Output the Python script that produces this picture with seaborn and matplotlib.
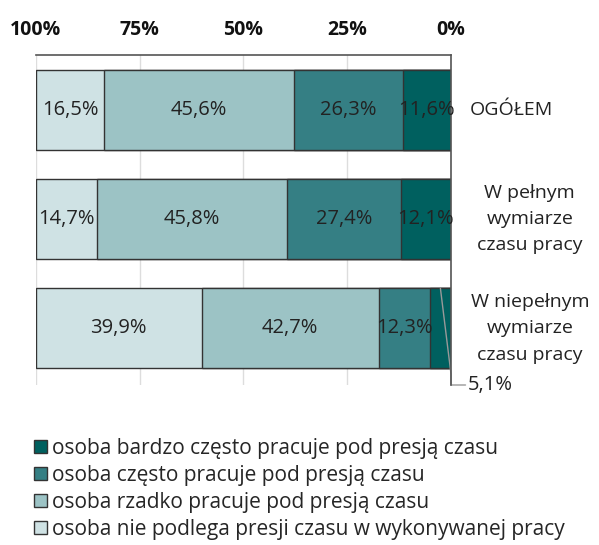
import matplotlib

matplotlib.use("Agg")
import matplotlib.pyplot as plt
import numpy as np
import pandas as pd
import seaborn as sns
from matplotlib.patches import Patch

sns.set_theme(style="white")
plt.rcParams["font.family"] = ["Open Sans", "DejaVu Sans"]

categories = ["OGÓŁEM", "W pełnym\nwymiarze\nczasu pracy", "W niepełnym\nwymiarze\nczasu pracy"]
series_names = [
    "osoba bardzo często pracuje pod presją czasu",
    "osoba często pracuje pod presją czasu",
    "osoba rzadko pracuje pod presją czasu",
    "osoba nie podlega presji czasu w wykonywanej pracy",
]
bardzo_czesto = [11.6, 12.1, 5.1]
czesto = [26.3, 27.4, 12.3]
rzadko = [45.6, 45.8, 42.7]
nie_podlega = [16.5, 14.7, 39.9]
colors = ["#00605f", "#357f84", "#9cc3c5", "#cfe2e4"]

values = np.array([bardzo_czesto, czesto, rzadko, nie_podlega])
cum = values.cumsum(axis=0)

fig = plt.figure(figsize=(5.99, 5.45), dpi=100)
ax = fig.add_axes([36 / 599, 1 - 385 / 545, (451 - 36) / 599, 330 / 545])

# stacked bars: draw the longest cumulative layer first, shorter ones on top
for k in range(3, -1, -1):
    df = pd.DataFrame({"cat": categories, "val": cum[k]})
    sns.barplot(data=df, x="val", y="cat", orient="h", color=colors[k],
                saturation=1, width=0.73, edgecolor="#333333", linewidth=1, ax=ax)

ax.set_xlim(100, 0)
ax.set_ylim(2.52, -0.5)
ax.set_xlabel("")
ax.set_ylabel("")
ax.set_yticks([])
ax.set_xticks([0, 25, 50, 75, 100])
ax.set_xticklabels([f"{t}%" for t in [0, 25, 50, 75, 100]], fontsize=14, fontweight="bold")
ax.xaxis.tick_top()
ax.tick_params(axis="x", length=0, pad=11, colors="#111111")
ax.grid(axis="x", color="#dddddd", linewidth=1)
ax.set_axisbelow(True)
for side in ["left", "bottom"]:
    ax.spines[side].set_visible(False)
for side in ["top", "right"]:
    ax.spines[side].set_color("#555555")
    ax.spines[side].set_linewidth(1.2)

# value labels
for k in range(4):
    for i in range(3):
        v = values[k, i]
        if v < 8:
            continue
        ax.text(cum[k, i] - v / 2, i, f"{v:.1f}%".replace(".", ","),
                ha="center", va="center", fontsize=14.5, color="#222222")

# leader for the small segment
v = values[0, 2]
ax.plot([v / 2, 0, 0, -3.5], [2 - 0.365, 2.42, 2.52, 2.52], color="#999999",
        lw=1, clip_on=False)
ax.text(-4.0, 2.52, f"{v:.1f}%".replace(".", ","), ha="left", va="center",
        fontsize=14.5, color="#222222", clip_on=False)

# category labels on the right
label_x = [1.145, 1.19, 1.19]
for i, cat in enumerate(categories):
    ax.text(label_x[i], i, cat, transform=ax.get_yaxis_transform(), ha="center",
            va="center", fontsize=14, color="#222222", linespacing=1.6)

handles = [Patch(facecolor=c, edgecolor="#333333", linewidth=1) for c in colors]
fig.legend(handles, series_names, loc="upper left", bbox_to_anchor=(34 / 599, 1 - 438 / 545),
           frameon=False, fontsize=15, handlelength=0.6, handleheight=0.6,
           handletextpad=0.25, labelspacing=0.28, borderaxespad=0, borderpad=0)

fig.savefig("out.png", dpi=100)
